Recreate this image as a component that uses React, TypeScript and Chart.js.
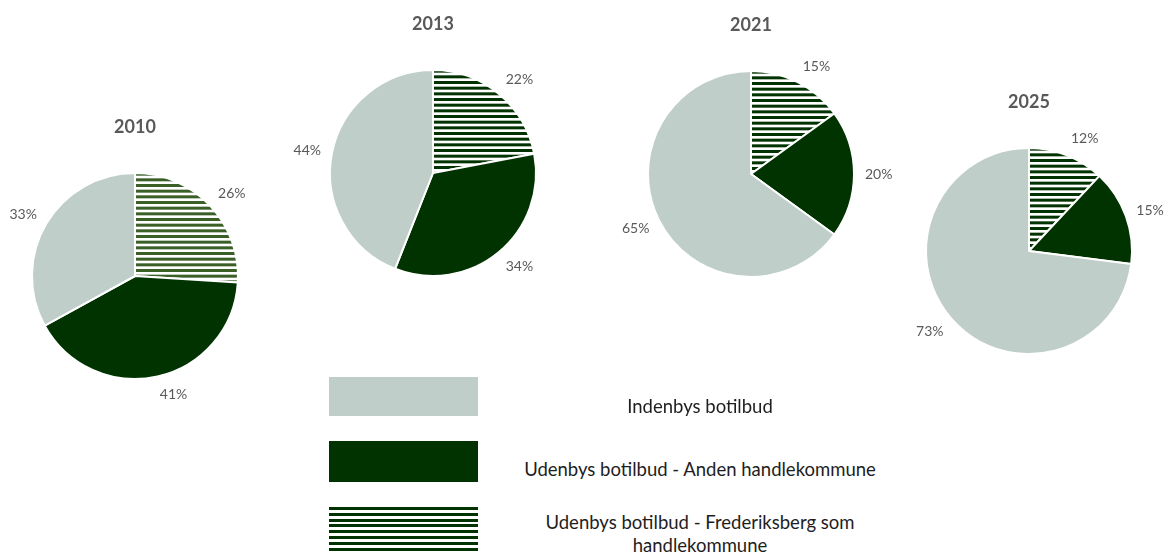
import React, { useEffect, useRef } from "react";
import { Chart, registerables } from "chart.js";

Chart.register(...registerables);

// ---- data ----
const years = ["2010", "2013", "2021", "2025"];
const categories = [
  "Udenbys botilbud - Frederiksberg som handlekommune",
  "Udenbys botilbud - Anden handlekommune",
  "Indenbys botilbud",
];
const frederiksbergShare = [26, 22, 15, 12];
const andenShare = [41, 34, 20, 15];
const indenbysShare = [33, 44, 65, 73];

// ---- layout / style (not data) ----
const pieCenters = [
  [135, 276],
  [433, 173],
  [751, 174],
  [1029, 251],
];
const PIE_RADIUS = 103;
const CANVAS_SIZE = 320;
const LIGHT = "#BFCEC8";
const DARK = "#003300";
const STRIPE_COLORS = ["#3A5F27", "#003300", "#003300", "#003300"];
const LABEL_COLOR = "#595959";
const FONT = "Lato, 'Open Sans', sans-serif";

function makeStripePattern(color: string): CanvasPattern | string {
  const c = document.createElement("canvas");
  c.width = 8;
  c.height = 17;
  const ctx = c.getContext("2d");
  if (!ctx) return color;
  ctx.fillStyle = "#ffffff";
  ctx.fillRect(0, 0, 8, 17);
  ctx.fillStyle = color;
  for (let i = 0; i < 3; i++) {
    ctx.fillRect(0, i * (17 / 3), 8, 3);
  }
  const p = ctx.createPattern(c, "repeat");
  return p || color;
}

const clamp1 = (v: number) => Math.max(-1, Math.min(1, v));

const pieTextPlugin = {
  id: "pieText",
  afterDraw(chart: any) {
    const ctx = chart.ctx as CanvasRenderingContext2D;
    const meta = chart.getDatasetMeta(0);
    const title = chart.options.plugins.pieText.title as string;
    const first = meta.data[0];
    if (!first) return;
    const cx = first.x;
    const cy = first.y;
    const r = first.outerRadius;
    ctx.save();
    // title
    ctx.font = `bold 18px ${FONT}`;
    ctx.fillStyle = LABEL_COLOR;
    ctx.textAlign = "center";
    ctx.textBaseline = "middle";
    ctx.fillText(title, cx, cy - 149);
    // labels outside the slice end
    ctx.font = `14px ${FONT}`;
    const data = chart.data.datasets[0].data as number[];
    const total = data.reduce((a, b) => a + b, 0);
    meta.data.forEach((arc: any, i: number) => {
      const mid = (arc.startAngle + arc.endAngle) / 2;
      const dx = Math.cos(mid);
      const dy = Math.sin(mid);
      const txt = Math.round((data[i] / total) * 100) + "%";
      const w = ctx.measureText(txt).width;
      const h = 14;
      const R = r + 11;
      const ax = cx + dx * R;
      const ay = cy + dy * R;
      const lx = ax + (w / 2) * clamp1(dx * 5);
      const ly = ay + (h / 2) * dy;
      ctx.fillText(txt, lx, ly);
    });
    ctx.restore();
  },
};

function PieChart({ index }: { index: number }) {
  const ref = useRef<HTMLCanvasElement>(null);
  useEffect(() => {
    if (!ref.current) return;
    const chart = new Chart(ref.current, {
      type: "pie",
      data: {
        labels: categories,
        datasets: [
          {
            data: [frederiksbergShare[index], andenShare[index], indenbysShare[index]],
            backgroundColor: [makeStripePattern(STRIPE_COLORS[index]), DARK, LIGHT] as any,
            borderColor: "#ffffff",
            borderWidth: 2,
            radius: PIE_RADIUS,
          } as any,
        ],
      },
      options: {
        responsive: false,
        animation: false,
        events: [],
        layout: { padding: 0 },
        plugins: {
          legend: { display: false },
          title: { display: false },
          tooltip: { enabled: false },
          pieText: { title: years[index] },
        } as any,
      },
      plugins: [pieTextPlugin],
    });
    return () => chart.destroy();
  }, [index]);
  const [cx, cy] = pieCenters[index];
  return (
    <canvas
      ref={ref}
      width={CANVAS_SIZE}
      height={CANVAS_SIZE}
      style={{
        position: "absolute",
        left: cx - CANVAS_SIZE / 2,
        top: cy - CANVAS_SIZE / 2,
        width: CANVAS_SIZE,
        height: CANVAS_SIZE,
      }}
    />
  );
}

const legendTextStyle: React.CSSProperties = {
  position: "absolute",
  left: 500,
  width: 400,
  textAlign: "center",
  fontFamily: FONT,
  fontSize: 18.5,
  lineHeight: "23px",
  color: "#1E1E1E",
};

export default function App() {
  return (
    <div
      style={{
        position: "absolute",
        left: 0,
        top: 0,
        width: 1164,
        height: 552,
        overflow: "hidden",
        background: "#ffffff",
      }}
    >
      {years.map((_, i) => (
        <PieChart key={i} index={i} />
      ))}
      <div style={{ position: "absolute", left: 329, top: 377, width: 149, height: 39, background: LIGHT }} />
      <div style={{ position: "absolute", left: 329, top: 441, width: 149, height: 41, background: DARK }} />
      <div
        style={{
          position: "absolute",
          left: 329,
          top: 507,
          width: 149,
          height: 45,
          background: `repeating-linear-gradient(to bottom, ${DARK} 0px, ${DARK} 3px, #ffffff 3px, #ffffff 5.8px)`,
        }}
      />
      <div style={{ ...legendTextStyle, top: 406 - 11.5 }}>{categories[2]}</div>
      <div style={{ ...legendTextStyle, top: 469 - 11.5 }}>{categories[1]}</div>
      <div style={{ ...legendTextStyle, top: 522 - 11.5 }}>
        Udenbys botilbud - Frederiksberg som
        <br />
        handlekommune
      </div>
    </div>
  );
}
